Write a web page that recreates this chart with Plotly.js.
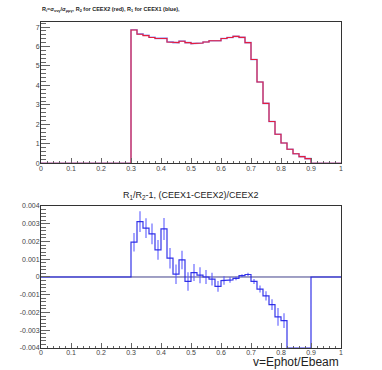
<!DOCTYPE html>
<html><head><meta charset="utf-8">
<script src="https://cdn.plot.ly/plotly-3.0.1.min.js"></script>
<style>html,body{margin:0;padding:0;background:#fff}#c{width:382px;height:370px}</style>
</head><body><div id="c"></div>
<script>
// bin layout: 50 bins of width 0.02 from 0 to 1; data given for bins starting at 0.30
const binLo = 0.30;
const binWidth = 0.02;
const nBinsAll = 50;
// top panel: R2 (CEEX2, red) and R1 (CEEX1, blue), bins 0.30 .. 0.88
const r2Red = [6.85,6.63,6.56,6.46,6.41,6.41,6.23,6.20,6.27,6.20,6.15,6.18,6.23,6.30,6.30,
               6.41,6.46,6.52,6.47,6.20,5.33,4.18,3.08,2.15,1.49,1.04,0.72,0.49,0.34,0.24];
const r1Blue = [6.86,6.65,6.58,6.48,6.42,6.43,6.24,6.20,6.28,6.20,6.15,6.18,6.23,6.30,6.30,
                6.41,6.46,6.52,6.47,6.20,5.33,4.18,3.08,2.15,1.49,1.04,0.72,0.49,0.34,0.24];
// bottom panel: R1/R2-1 and its errors, bins 0.30 .. 0.88 (below -0.004 shown at frame)
const diff = [0.00196,0.00312,0.00275,0.00243,0.00153,0.00271,0.00106,0.00016,0.00096,-0.00025,
              0.00025,0.00010,0.00000,-0.00012,-0.00053,-0.00020,-0.00016,-0.00008,0.00008,0.00014,
              -0.00025,-0.00068,-0.00106,-0.00156,-0.00225,-0.00246,-0.0040,-0.0040,-0.0040,-0.0040];
const diffErr = [0.00052,0.00058,0.00056,0.00058,0.00056,0.00062,0.00058,0.00055,0.00052,0.00052,
                 0.00048,0.00045,0.00040,0.00036,0.00030,0.00024,0.00016,0.00010,0.00008,0.00010,
                 0.00014,0.00020,0.00026,0.00030,0.00050,0.00042,0,0,0,0];
const xTickVals = [0,0.1,0.2,0.3,0.4,0.5,0.6,0.7,0.8,0.9,1];
const xTickText = ["0","0.1","0.2","0.3","0.4","0.5","0.6","0.7","0.8","0.9","1"];
const yTopTicks = [0,1,2,3,4,5,6,7];
const yBotTicks = [-0.004,-0.003,-0.002,-0.001,0,0.001,0.002,0.003,0.004];
const yBotText = ["-0.004","-0.003","-0.002","-0.001","0","0.001","0.002","0.003","0.004"];

function fullBins(vals){
  const out = new Array(nBinsAll).fill(0);
  const start = Math.round(binLo/binWidth);
  vals.forEach((v,i)=>{ out[start+i]=v; });
  return out;
}
function steps(vals){
  const xs=[], ys=[];
  vals.forEach((v,i)=>{ const lo=i*binWidth, hi=(i+1)*binWidth; xs.push(lo,hi); ys.push(v,v); });
  return {x:xs,y:ys};
}
const sB = steps(fullBins(r1Blue)), sR = steps(fullBins(r2Red)), sD = steps(fullBins(diff));
const ex=[], ey=[];
diff.forEach((v,i)=>{ const e=diffErr[i]; if(e>0){ const c=binLo+(i+0.5)*binWidth; ex.push(c,c,null); ey.push(v-e,v+e,null);} });

const fam = 'Liberation Sans, Arial, sans-serif';
const tickFont = {family:fam, size:7, color:'#444'};
const axBase = {showline:true, mirror:true, linecolor:'#333', linewidth:1, ticks:'inside',
  tickcolor:'#666', tickwidth:1, showgrid:false, zeroline:false, tickfont:tickFont};

const traces = [
  {x:sB.x, y:sB.y, mode:'lines', line:{color:'rgba(120,120,235,0.75)', width:1.6}, xaxis:'x', yaxis:'y', hoverinfo:'skip'},
  {x:sR.x, y:sR.y, mode:'lines', line:{color:'rgb(228,30,62)', width:1.1}, xaxis:'x', yaxis:'y', hoverinfo:'skip'},
  {x:ex, y:ey, mode:'lines', line:{color:'rgba(80,80,255,0.5)', width:2}, xaxis:'x2', yaxis:'y2', hoverinfo:'skip'},
  {x:sD.x, y:sD.y, mode:'lines', line:{color:'rgba(30,30,230,0.9)', width:1.2}, xaxis:'x2', yaxis:'y2', hoverinfo:'skip'}
];

const layout = {
  width:382, height:370, showlegend:false,
  paper_bgcolor:'#fff', plot_bgcolor:'#fff',
  margin:{l:41, r:41, t:22, b:22},
  xaxis: Object.assign({}, axBase, {range:[0,1], domain:[0,1], anchor:'y', tickvals:xTickVals, ticktext:xTickText, ticklen:5,
    ticklabelstandoff:-2, minor:{ticks:'inside', dtick:0.02, ticklen:2.5, tickcolor:'#666'}}),
  yaxis: Object.assign({}, axBase, {range:[0,7.26], domain:[0.5666,1], anchor:'x', tickvals:yTopTicks, ticklen:9,
    ticklabelstandoff:-1, minor:{ticks:'inside', dtick:0.2, ticklen:4.5, tickcolor:'#666'}}),
  xaxis2: Object.assign({}, axBase, {range:[0,1], domain:[0,1], anchor:'y2', tickvals:xTickVals, ticktext:xTickText, ticklen:5,
    ticklabelstandoff:-2, minor:{ticks:'inside', dtick:0.02, ticklen:2.5, tickcolor:'#666'}}),
  yaxis2: Object.assign({}, axBase, {range:[-0.004,0.004], domain:[0,0.4356], anchor:'x2', tickvals:yBotTicks, ticktext:yBotText, ticklen:9,
    ticklabelstandoff:-1, minor:{ticks:'inside', dtick:0.0002, ticklen:4.5, tickcolor:'#666'}}),
  shapes:[{type:'line', xref:'x2 domain', yref:'y2', x0:0, x1:1, y0:0, y1:0, line:{color:'#40408a', width:1}, layer:'below'}],
  annotations:[
    {xref:'paper', yref:'paper', x:-0.003, y:1.037, xanchor:'left', yanchor:'middle', showarrow:false,
     text:'<b>R<sub>i</sub>=σ<sub>ννγ</sub>/σ<sub>μμγ</sub>, R<sub>2</sub> for CEEX2 (red), R<sub>1</sub> for CEEX1 (blue),</b>',
     font:{family:fam, size:5.5, color:'#222'}},
    {xref:'paper', yref:'paper', x:0.5, y:0.469, xanchor:'center', yanchor:'middle', showarrow:false,
     text:'R<sub>1</sub>/R<sub>2</sub>-1, (CEEX1-CEEX2)/CEEX2',
     font:{family:fam, size:9, color:'#222'}},
    {xref:'paper', yref:'paper', x:1.0, y:-0.044, xanchor:'right', yanchor:'middle', showarrow:false,
     text:'v=Ephot/Ebeam',
     font:{family:fam, size:12, color:'#222'}}
  ]
};
Plotly.newPlot('c', traces, layout, {staticPlot:true, displayModeBar:false});
</script></body></html>
